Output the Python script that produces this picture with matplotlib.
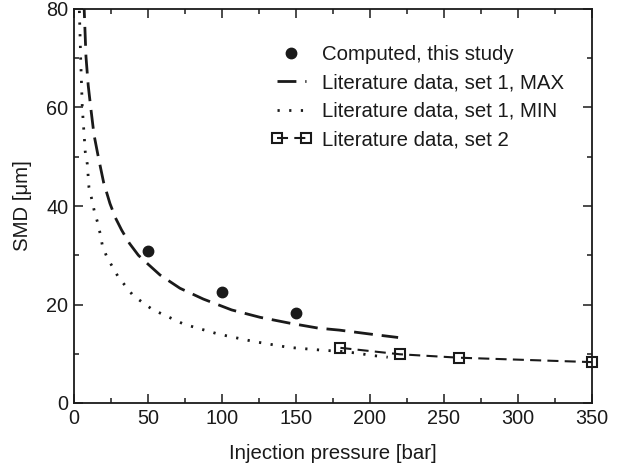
import matplotlib
matplotlib.use("Agg")
import matplotlib.pyplot as plt
from matplotlib.legend_handler import HandlerLine2D
from matplotlib.ticker import MultipleLocator

plt.rcParams['font.family'] = ['Liberation Sans', 'DejaVu Sans']

# Computed, this study
comp_x = [50, 100, 150]
comp_y = [30.9, 22.5, 18.2]

# Literature data, set 1, MAX
max_x = [6.5, 6.9, 8.1, 9.6, 11.3, 13.5, 16.4, 20.0, 24.3, 28.0, 32.2, 37.5, 43.5, 50.0,
         58.1, 71.6, 87.4, 106.5, 125.7, 145.9, 165.1, 179.3, 200.0, 219.0]
max_y = [82.0, 79.8, 70.3, 64.5, 60.0, 54.5, 50.0, 44.8, 40.5, 37.6, 35.1, 32.4, 30.0, 28.2,
         26.0, 23.3, 21.1, 18.9, 17.4, 16.2, 15.2, 14.8, 14.0, 13.3]

# Literature data, set 1, MIN
min_x = [3.4, 3.6, 4.5, 5.6, 7.6, 9.0, 10.1, 12.0, 13.7, 15.8, 17.6, 19.1, 22.1, 25.9, 29.9,
         40.0, 52.9, 74.3, 97.5, 121.2, 144.8, 168.5, 180.0, 192.0, 200.0, 212.0]
min_y = [82.0, 80.0, 70.0, 60.0, 51.0, 48.5, 43.8, 41.4, 39.0, 36.8, 34.5, 32.1, 29.7, 27.7, 25.6,
         21.8, 19.0, 16.0, 14.0, 12.5, 11.3, 10.7, 10.5, 10.1, 9.7, 9.3]

# Literature data, set 2
set2_x = [180, 220, 260, 350]
set2_y = [11.2, 9.9, 9.2, 8.3]

fig = plt.figure(figsize=(6.23, 4.68), dpi=100)
ax = fig.add_axes([74 / 623, 65 / 468, 518 / 623, 394 / 468])

l_comp, = ax.plot(comp_x, comp_y, linestyle='none', marker='o', markersize=7.5,
                  color='#1a1a1a', label='Computed, this study', zorder=5)
l_max, = ax.plot(max_x, max_y, color='#1a1a1a', linewidth=2.0,
                 linestyle=(0, (6.8, 3.2)), label='Literature data, set 1, MAX')
l_min, = ax.plot(min_x, min_y, color='#1a1a1a', linewidth=2.0,
                 linestyle=(0, (0.8, 3.4)), label='Literature data, set 1, MIN')
l_set2, = ax.plot(set2_x, set2_y, color='#1a1a1a', linewidth=1.5,
                  linestyle=(0, (5.3, 3.0)), marker='s', markersize=7,
                  markerfacecolor='none', markeredgewidth=1.5, markeredgecolor='#1a1a1a',
                  label='Literature data, set 2', clip_on=False, zorder=4)

ax.set_xlim(0, 350)
ax.set_ylim(0, 80)
ax.xaxis.set_major_locator(MultipleLocator(50))
ax.xaxis.set_minor_locator(MultipleLocator(25))
ax.yaxis.set_major_locator(MultipleLocator(20))
ax.yaxis.set_minor_locator(MultipleLocator(10))
ax.tick_params(which='both', direction='in', top=True, right=True, labelsize=14.3,
               colors='#1a1a1a', width=1.1, pad=4)
ax.tick_params(which='major', length=6.5)
ax.tick_params(which='minor', length=3.6)
for s in ax.spines.values():
    s.set_linewidth(1.3)
    s.set_color('#1a1a1a')

ax.set_xlabel('Injection pressure [bar]', fontsize=14.7, color='#1a1a1a', labelpad=12)
ax.set_ylabel('SMD [μm]', fontsize=14.7, color='#1a1a1a', labelpad=10)

leg = ax.legend(handles=[l_comp, l_max, l_min, l_set2], loc='upper left',
                bbox_to_anchor=((271 - 74) / 518, (403 - 45) / 394),
                frameon=False, fontsize=14.7, handlelength=2.0, handletextpad=0.5,
                labelspacing=0.46, borderpad=0, borderaxespad=0, numpoints=2,
                handler_map={l_comp: HandlerLine2D(numpoints=1)})
for t in leg.get_texts():
    t.set_color('#1a1a1a')

fig.savefig('out.png', dpi=100)
